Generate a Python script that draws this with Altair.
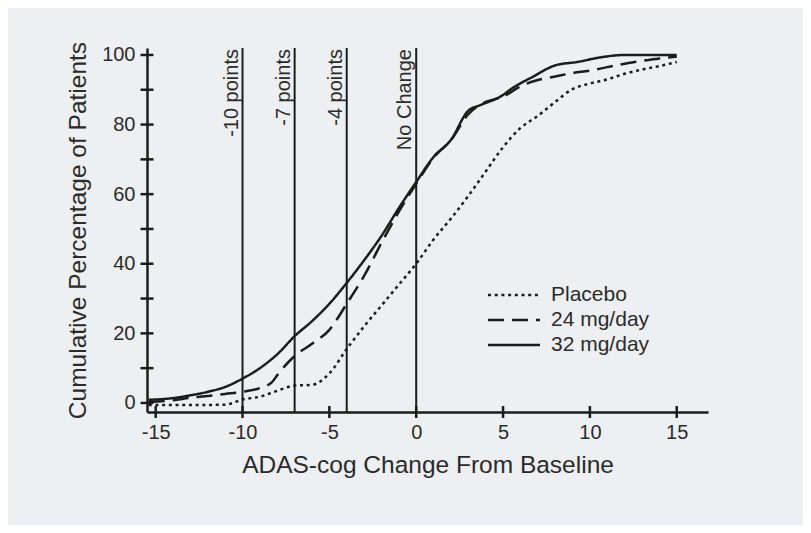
import altair as alt
import pandas as pd

# ---- data ----
placebo_x = [-15.4, -13, -11, -10, -9, -8, -7, -6, -5, -4, -3, -2, -1, 0, 1, 2, 3, 4, 5, 6, 7, 8, 9, 10, 11, 12, 13, 14, 15]
placebo_y = [-0.6, -0.6, -0.5, 1.0, 1.8, 3.5, 5.0, 5.2, 8.5, 15.5, 22, 28, 34, 40, 47, 53, 59.5, 66.5, 73.5, 79, 82.5, 86.5, 90.2, 91.8, 93, 94.6, 95.8, 96.8, 98]

mg24_x = [-15.4, -14, -13, -12, -11, -10, -9, -8.3, -8, -7, -6, -5, -4, -3, -2, -1, 0, 1, 2, 3, 4, 5, 6, 7, 8, 9, 10, 11, 12, 13, 14, 15]
mg24_y = [0.3, 0.8, 1.5, 2.0, 2.6, 3.2, 4.3, 6.0, 8.0, 13.5, 17, 21, 28.5, 36.5, 46, 55, 63, 70.5, 75.5, 83, 86.5, 88, 91, 92.8, 93.8, 94.8, 95.5, 96.5, 97.5, 98.3, 99, 99.5]

mg32_x = [-15.4, -14, -13, -12, -11, -10, -9, -8, -7, -6, -5, -4, -3, -2, -1, 0, 1, 2, 3, 3.7, 5, 5.4, 6.7, 8, 9.3, 10.6, 12, 13, 14, 15]
mg32_y = [0.9, 1.4, 2.2, 3.2, 4.6, 7.0, 10, 14, 19.2, 23.5, 28.5, 34.5, 41, 48, 56, 63.5, 70.7, 75.6, 84, 85.6, 88.5, 90, 93.7, 97, 98, 99.3, 100, 100, 100, 100]

series_names = ["Placebo", "24 mg/day", "32 mg/day"]
series_dash = [[3, 3.7], [16, 8], [1, 0]]

ref_x = [-10, -7, -4, 0]
ref_labels = ["-10 points", "-7 points", "-4 points", "No Change"]

x_ticks = [-15, -10, -5, 0, 5, 10, 15]
y_ticks = [0, 10, 20, 30, 40, 50, 60, 70, 80, 90, 100]
y_labels = [0, 20, 40, 60, 80, 100]

# ---- build tables ----
rows = []
for name, xs_, ys_ in zip(series_names, [placebo_x, mg24_x, mg32_x], [placebo_y, mg24_y, mg32_y]):
    for i, (a, b) in enumerate(zip(xs_, ys_)):
        rows.append({"series": name, "x": a, "y": b, "order": i})
curves = pd.DataFrame(rows)
refs = pd.DataFrame({"x": ref_x, "label": ref_labels})

W, H = 561, 364
INK = "#1c1c1c"
TXT = "#2b2b2b"
FONT = "Liberation Sans"

xs = alt.Scale(domain=[-15.5, 16.8], nice=False, zero=False)
ys = alt.Scale(domain=[-2.6, 102], nice=False, zero=False)

base_x_axis = alt.Axis(values=x_ticks, ticks=False, grid=False, domainColor=INK, domainWidth=2.5,
                       labelFontSize=20, labelColor=TXT, labelPadding=10, labelFont=FONT,
                       labelExpr="'' + datum.value",
                       title="ADAS-cog Change From Baseline", titleFontSize=24.5, titleFont=FONT,
                       titleFontWeight="normal", titleColor=TXT, titlePadding=11)
base_y_axis = alt.Axis(values=y_labels, ticks=False, grid=False, domainColor=INK, domainWidth=2.5,
                       labelFontSize=20, labelColor=TXT, labelPadding=12, labelFont=FONT,
                       labelExpr="'' + datum.value",
                       title="Cumulative Percentage of Patients", titleFontSize=24.5, titleFont=FONT,
                       titleFontWeight="normal", titleColor=TXT, titlePadding=11)

lines = alt.Chart(curves).mark_line(interpolate="monotone", strokeWidth=2.5, color=INK).encode(
    x=alt.X("x:Q", scale=xs, axis=base_x_axis),
    y=alt.Y("y:Q", scale=ys, axis=base_y_axis),
    strokeDash=alt.StrokeDash("series:N", scale=alt.Scale(domain=series_names, range=series_dash), legend=None),
    order="order:Q",
    detail="series:N",
)

vrules = alt.Chart(refs).mark_rule(color=INK, strokeWidth=2).encode(
    x=alt.X("x:Q", scale=xs),
    y=alt.value(0), y2=alt.value(H),
)
vtext = alt.Chart(refs).mark_text(angle=270, align="right", baseline="bottom", fontSize=20,
                                  font=FONT, color=TXT, dy=-1).encode(
    x=alt.X("x:Q", scale=xs),
    y=alt.value(1),
    text="label:N",
)

ytick = alt.Chart(pd.DataFrame({"v": y_ticks})).mark_rule(color=INK, strokeWidth=2.5).encode(
    y=alt.Y("v:Q", scale=ys), x=alt.value(-6.5), x2=alt.value(6.5))
xtick = alt.Chart(pd.DataFrame({"v": x_ticks})).mark_rule(color=INK, strokeWidth=2.5).encode(
    x=alt.X("v:Q", scale=xs), y=alt.value(H - 6), y2=alt.value(H + 6))

# manual legend
legend_layers = []
row_y = [247, 272, 297]
for name, dash, ry in zip(series_names, series_dash, row_y):
    d = pd.DataFrame({"series": [name]})
    legend_layers.append(alt.Chart(d).mark_rule(color=INK, strokeWidth=2.5, strokeDash=dash).encode(
        x=alt.value(341), x2=alt.value(393), y=alt.value(ry)))
    legend_layers.append(alt.Chart(d).mark_text(align="left", baseline="middle", fontSize=21, font=FONT,
                                                color=TXT).encode(
        x=alt.value(404), y=alt.value(ry), text="series:N"))

chart = alt.layer(vrules, vtext, lines, ytick, xtick, *legend_layers).properties(
    width=W, height=H,
    autosize=alt.AutoSizeParams(type="none"),
    padding={"left": 139, "top": 40, "right": 95, "bottom": 113},
    background="#edeff2",
).configure_view(stroke=None)

chart.save("out.html", embed_options={"renderer": "svg", "actions": False})
